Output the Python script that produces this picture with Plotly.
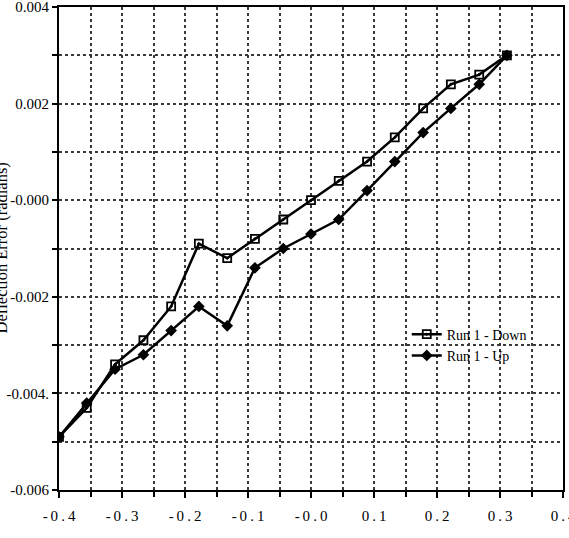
import plotly.graph_objects as go

# Data
x_vals = [-0.400, -0.356, -0.311, -0.266, -0.222, -0.178, -0.133, -0.089, -0.044,
          0.000, 0.044, 0.089, 0.133, 0.178, 0.222, 0.267, 0.311]
down_vals = [-0.0049, -0.0043, -0.0034, -0.0029, -0.0022, -0.0009, -0.0012, -0.0008, -0.0004,
             0.0000, 0.0004, 0.0008, 0.0013, 0.0019, 0.0024, 0.0026, 0.0030]
up_vals = [-0.0049, -0.0042, -0.0035, -0.0032, -0.0027, -0.0022, -0.0026, -0.0014, -0.0010,
           -0.0007, -0.0004, 0.0002, 0.0008, 0.0014, 0.0019, 0.0024, 0.0030]

x_tick_vals = [-0.4, -0.3, -0.2, -0.1, 0.0, 0.1, 0.2, 0.3, 0.4]
x_tick_text = ["-0.4", "-0.3", "-0.2", "-0.1", "-0.0", "0.1", "0.2", "0.3", "0.4"]
y_tick_vals = [-0.006, -0.004, -0.002, 0.0, 0.002, 0.004]
y_tick_text = ["-0.006", "-0.004.", "-0.002", "-0.000", "0.002", "0.004"]

def spaced(s):
    return "\u2009".join(list(s))

FONT = "Liberation Serif"
W, H = 569, 538
L, R, T, B = 59, 6, 7, 48
GRIDC = "#3a3a3a"

fig = go.Figure()
fig.add_trace(go.Scatter(
    x=x_vals, y=down_vals, mode="lines+markers", name="Run 1 - Down",
    line=dict(color="black", width=2.5),
    marker=dict(symbol="square-open-dot", size=8, color="black", line=dict(width=1.8, color="black")),
))
fig.add_trace(go.Scatter(
    x=x_vals, y=up_vals, mode="lines+markers", name="Run 1 - Up",
    line=dict(color="black", width=2.5),
    marker=dict(symbol="diamond", size=9, color="black"),
))

grid = dict(showgrid=True, gridcolor=GRIDC, gridwidth=2, griddash="dot")

fig.update_xaxes(
    range=[-0.4000001, 0.4000001], tickvals=x_tick_vals, ticktext=[spaced(t) for t in x_tick_text],
    ticks="outside", ticklen=6, tickwidth=1.5, tickcolor="black", ticklabelstandoff=5,
    ticklabeloverflow="allow",
    showline=True, linecolor="black", linewidth=2.2, mirror=True,
    zeroline=False, tickfont=dict(family=FONT, size=15, color="black"),
    minor=dict(dtick=0.05, tick0=0, ticks="outside", ticklen=5, tickcolor="black",
               showgrid=True, gridcolor=GRIDC, gridwidth=2, griddash="dot"),
    **grid,
)
fig.update_yaxes(
    range=[-0.00600001, 0.00400001], tickvals=y_tick_vals, ticktext=y_tick_text,
    ticks="outside", ticklen=5, tickwidth=1.5, tickcolor="black",
    ticklabeloverflow="allow",
    showline=True, linecolor="black", linewidth=2.2, mirror=True,
    zeroline=False, tickfont=dict(family=FONT, size=15, color="black"),
    minor=dict(dtick=0.001, tick0=0, ticks="outside", ticklen=5, tickcolor="black",
               showgrid=True, gridcolor=GRIDC, gridwidth=2, griddash="dot"),
    **grid,
)

pw = W - L - R
fig.add_annotation(
    text="Deflection Error (radians)", textangle=-90,
    xref="paper", yref="paper", x=(1 - L) / pw, y=0.5,
    xanchor="center", yanchor="middle", showarrow=False,
    font=dict(family=FONT, size=16.5, color="black"),
)

fig.update_layout(
    width=W, height=H,
    margin=dict(l=L, r=R, t=T, b=B, autoexpand=False),
    paper_bgcolor="white", plot_bgcolor="white",
    showlegend=True,
    legend=dict(x=0.69, y=0.30, xanchor="left", yanchor="middle",
                bgcolor="rgba(0,0,0,0)", font=dict(family=FONT, size=14, color="black"),
                itemwidth=30, tracegroupgap=0),
)

fig.write_html("out.html")
